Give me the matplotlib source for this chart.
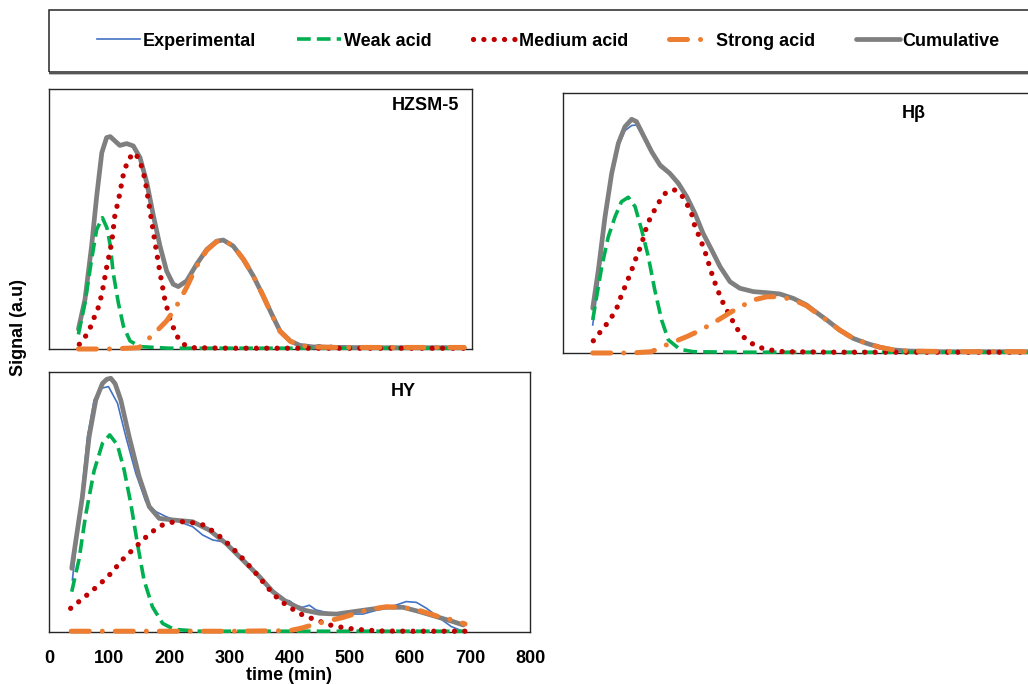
import matplotlib
matplotlib.use("Agg")
import matplotlib.pyplot as plt
from matplotlib.lines import Line2D
from matplotlib.patches import Rectangle

plt.rcParams['font.family'] = ['Liberation Sans', 'DejaVu Sans']

# ---------------- data (time in min, signal in a.u.) ----------------
# HZSM-5
hz_cum_t = [49, 60, 71, 79.5, 88, 96, 102, 110, 118, 129.5, 140.5, 151.7, 163, 174, 185, 196, 207, 215.5,
            229.5, 246, 263, 279.5, 290.5, 307, 324, 340.5, 357, 371, 385, 402, 418, 440, 480, 540, 600, 650, 692]
hz_cum_y = [7.6, 19.1, 39.6, 58.8, 75.5, 81.3, 81.7, 80, 78.3, 79, 78.1, 73.6, 64, 51.2, 39.6, 30, 24.9, 24,
            26.2, 32.6, 38.3, 41.5, 41.9, 39.6, 34.5, 28.1, 20.4, 13.5, 6.9, 3.1, 1.4, 0.8, 0.6, 0.5, 0.5, 0.5, 0.5]
hz_exp_t = [49, 60, 71, 79.5, 88, 96, 102, 110, 118, 129.5, 140.5, 151.7, 163, 174, 185, 196, 207, 215.5,
            229.5, 246, 263, 279.5, 290.5, 307, 324, 340.5, 357, 371, 385, 402, 418, 430, 440, 450, 460, 470,
            480, 490, 500, 520, 560, 600, 640, 660, 680, 692]
hz_exp_y = [7.0, 19.5, 40, 59, 75.5, 81.5, 82, 80.3, 78.5, 79.2, 78.0, 73.5, 64, 51, 39.5, 30, 25, 24.2,
            26.4, 32.8, 38.5, 41.6, 42.0, 39.4, 34.3, 28.0, 20.3, 13.4, 7.0, 3.2, 1.4, 1.5, 1.0, 1.6, 0.9, 1.4,
            0.8, 1.2, 0.7, 0.6, 0.4, 0.5, 0.6, 0.9, 0.5, 0.6]
hz_weak_t = [49, 60, 71, 79.5, 89, 96.5, 102, 107, 115.5, 124, 135, 152, 200, 300, 400, 500, 600, 692]
hz_weak_y = [5.6, 17.8, 34.5, 46, 50.5, 46.6, 40, 29.3, 17.8, 8.8, 3.1, 0.9, 0.3, 0.3, 0.3, 0.3, 0.3, 0.3]
hz_med_t = [50.5, 65.5, 74, 82, 88, 96, 104.5, 110, 115.5, 124, 132, 143, 151.7, 160, 168, 176.7, 185, 193,
            201.7, 213, 224, 240.5, 300, 400, 500, 600, 692]
hz_med_y = [1.8, 6.3, 11.4, 15.9, 21, 31.3, 40.9, 51.8, 56.9, 67.2, 73, 75.5, 72.3, 65.3, 53.7, 40.9, 29.3,
            19.1, 11.4, 5, 1.8, 0.5, 0.3, 0.3, 0.3, 0.3, 0.3]
hz_strong_t = [49, 100, 150, 168, 182, 196, 210, 219.5, 230, 246, 263, 279.5, 290.5, 307, 324, 340.5, 357,
               371, 385, 402, 418, 440, 480, 540, 600, 650, 692]
hz_strong_y = [0, 0, 0.5, 4.4, 7.5, 10.8, 15.5, 19.4, 24, 31.8, 38, 41.3, 41.9, 39.6, 34.5, 28.1, 20.4,
               13.3, 6.8, 3.0, 1.3, 0.8, 0.6, 0.6, 0.6, 0.6, 0.6]

# HY
hy_cum_t = [37.8, 55.5, 66.7, 77.8, 88.9, 96, 102.8, 110, 119.4, 133.3, 150, 166.7, 183.3, 205.6, 238.9,
            266.7, 294.4, 322.2, 350, 372.2, 394.4, 422.2, 450, 477.8, 505.6, 533.3, 561, 588.9, 616.7, 644.4,
            672, 689]
hy_cum_y = [24.5, 52, 75.1, 89.2, 95.6, 97.2, 97.6, 95.5, 89.2, 75.1, 59.7, 48.2, 43.7, 43.1, 42.4,
            39.2, 34.1, 27.7, 21.3, 15.5, 11.7, 8.5, 7.2, 6.9, 7.8, 8.7, 9.5, 9.5, 7.8, 5.9,
            4.0, 2.7]
hy_exp_t = [38.9, 52.8, 63.9, 75, 86.1, 98.9, 113.9, 127.8, 144.4, 161.1, 177.8, 194.4, 216.7, 238.9, 255.6,
            272.2, 288.9, 305.6, 327.8, 350, 372.2, 390, 400, 410, 422, 433, 444, 467, 500, 522, 550, 578,
            594, 611, 628, 650, 669, 686]
hy_exp_y = [20, 49.5, 75.1, 89.2, 93.7, 94.4, 88, 75.1, 61, 50.1, 46.3, 44.4, 42.4, 40.5, 37.3,
            35.4, 34.7, 32.2, 27.1, 21.3, 16.2, 12.5, 12, 10.2, 9.5, 10.3, 8.5, 7.2, 6.9, 6.9, 8.7, 10.4,
            11.7, 11.4, 9.1, 5.3, 2.1, 0.5]
hy_weak_t = [37.8, 50, 61, 75, 89, 101, 113.9, 125, 136, 147, 158, 172, 189, 208, 250, 300, 400, 500,
             600, 692]
hy_weak_y = [15.5, 28, 45, 62, 72.6, 75.8, 71.9, 62.3, 49.5, 34.1, 20, 9.7, 3.3, 1.0, 0.3, 0.3, 0.3, 0.3,
             0.3, 0.3]
hy_med_t = [36, 53, 72, 89, 106, 119, 136, 153, 169, 189, 208, 231, 256, 278, 300, 322, 344, 367, 383, 403,
            422, 444, 467, 489, 511, 550, 600, 650, 692]
hy_med_y = [9.1, 12.3, 15.9, 19.4, 23.2, 27.1, 30.9, 34.7, 38.2, 41.2, 42.4, 42.4, 41.2, 38, 33.5, 28.3,
            22.6, 16.2, 12.3, 9.1, 6.5, 4.6, 2.7, 1.7, 1.0, 0.4, 0.3, 0.3, 0.3]
hy_strong_t = [37, 100, 200, 300, 400, 420, 444, 467, 489, 511, 533, 561, 589, 617, 644, 672, 692]
hy_strong_y = [0.3, 0.3, 0.3, 0.3, 0.5, 1.5, 3.1, 4.4, 5.6, 7.2, 8.7, 9.7, 9.5, 8.2, 6.2, 4.6, 3.1]

# H-beta
hb_cum_t = [43.7, 52, 61.8, 71.6, 81.4, 91, 101, 108, 118, 130.4, 142.6, 157, 169.6, 182, 194, 206, 218.7,
            231, 245.6, 260, 280, 299.5, 319, 338.7, 358, 368, 387.8, 407, 427, 446.6, 466, 485.7, 505,
            550, 600, 650, 692]
hb_cum_y = [17.2, 31.9, 52.4, 69.1, 80.7, 87, 89.9, 89, 83.8, 77.4, 72.3, 69.1, 65.3, 60.1, 53.7, 46, 39.6,
            33.2, 27.4, 24.9, 23.6, 23.2, 22.7, 21, 18.5, 16.5, 12.7, 8.8, 5.6, 3.7, 2.2, 1.2, 0.8,
            0.5, 0.5, 0.5, 0.5]
hb_exp_t = hb_cum_t
hb_exp_y = [10.8, 27, 50, 68, 79.5, 85.5, 87.5, 87.7, 83, 77, 71.5, 68.8, 64.5, 59.5, 53.7, 46, 39.6,
            33.2, 27.4, 24.9, 23.8, 23.0, 22.5, 21, 18.5, 16.5, 12.7, 8.8, 5.6, 3.7, 2.2, 1.2, 0.8,
            0.6, 0.4, 0.5, 0.5]
hb_weak_t = [43.7, 49.5, 57, 66.6, 76.5, 86, 96, 106, 115.7, 125.5, 135, 145, 155, 172, 191.6, 250, 350, 450,
             550, 692]
hb_weak_y = [12.7, 21.7, 33.2, 44.7, 52.4, 58.2, 59.9, 56.3, 47.3, 37, 24.2, 12.7, 5, 1.4, 0.5, 0.3, 0.3,
             0.3, 0.3, 0.3]
hb_med_t = [44.6, 57, 69, 79, 86, 93.6, 101, 108, 115.7, 120.6, 128, 137.8, 147.5, 156, 164.7, 172, 179.4,
            189, 194, 201.5, 208.8, 215, 221, 228.4, 235.7, 245.6, 255.4, 267.6, 284.8, 304, 324, 400, 500,
            600, 692]
hb_med_y = [4.7, 8.8, 12.7, 17.2, 22.3, 27, 31.9, 37, 41.9, 46.7, 51.8, 56.5, 60.8, 62.5, 62.7, 61.5, 58.8,
            53.7, 48.6, 44.1, 39, 33.8, 28.7, 23.6, 19.1, 14.2, 9.5, 5.6, 2.4, 1.2, 0.5, 0.3, 0.3, 0.3, 0.3]
hb_strong_t = [43.7, 100, 130, 152, 167, 182, 200, 216, 232, 248, 264, 280, 299.5, 316.6, 338.7, 358, 368,
               387.8, 407, 427, 446.6, 466, 485.7, 505, 550, 600, 650, 692]
hb_strong_y = [0, 0, 0.5, 3.1, 4.7, 6.3, 8.5, 10.8, 13.3, 15.9, 18.2, 20.4, 21.6, 21.7, 20.5, 18.2, 16.3,
               12.6, 8.8, 5.6, 3.7, 2.2, 1.2, 0.8, 0.6, 0.5, 0.5, 0.5]

series_labels = ["Experimental", "Weak acid", "Medium acid", "Strong acid", "Cumulative"]
panel_titles = ["HZSM-5", "H\u03b2", "HY"]
x_ticks = [0, 100, 200, 300, 400, 500, 600, 700, 800]
x_label = "time (min)"
y_label = "Signal (a.u)"

# ---------------- styles ----------------
C_EXP = "#4472C4"
C_WEAK = "#00B050"
C_MED = "#C00000"
C_STR = "#ED7D31"
C_CUM = "#7F7F7F"

styles = {
    "exp": dict(color=C_EXP, lw=1.2, ls="-", zorder=2),
    "weak": dict(color=C_WEAK, lw=2.6, ls=(0, (3.8, 1.7)), dash_capstyle="butt", zorder=4),
    "med": dict(color=C_MED, lw=3.8, ls=(0, (0.01, 1.95)), dash_capstyle="round", zorder=5),
    "str": dict(color=C_STR, lw=3.6, ls=(0, (3.6, 2.6, 0.01, 2.6)), dash_capstyle="round", zorder=6),
    "cum": dict(color=C_CUM, lw=3.4, ls="-", solid_capstyle="round", solid_joinstyle="round", zorder=3),
}

W, H = 1028, 684
fig = plt.figure(figsize=(W / 100, H / 100), dpi=100)


def add_ax(x0, y0, x1, y1):
    return fig.add_axes([x0 / W, 1 - y1 / H, (x1 - x0) / W, (y1 - y0) / H])


def draw(ax, data):
    for key, (t, y) in data.items():
        ax.plot(t, y, clip_on=False, **styles[key])


ax_hz = add_ax(49, 89, 472, 349)
ax_hb = add_ax(563, 93, 1028, 353)
ax_hy = add_ax(49, 372, 530, 632)

draw(ax_hz, {"exp": (hz_exp_t, hz_exp_y), "cum": (hz_cum_t, hz_cum_y), "weak": (hz_weak_t, hz_weak_y),
             "med": (hz_med_t, hz_med_y), "str": (hz_strong_t, hz_strong_y)})
draw(ax_hb, {"exp": (hb_exp_t, hb_exp_y), "cum": (hb_cum_t, hb_cum_y), "weak": (hb_weak_t, hb_weak_y),
             "med": (hb_med_t, hb_med_y), "str": (hb_strong_t, hb_strong_y)})
draw(ax_hy, {"exp": (hy_exp_t, hy_exp_y), "cum": (hy_cum_t, hy_cum_y), "weak": (hy_weak_t, hy_weak_y),
             "med": (hy_med_t, hy_med_y), "str": (hy_strong_t, hy_strong_y)})

ax_hz.set_xlim(0, 705)
ax_hb.set_xlim(0, (1028 - 563) / 0.68)
ax_hy.set_xlim(0, 800)

for ax in (ax_hz, ax_hb, ax_hy):
    ax.set_ylim(0, 100)
    ax.set_yticks([])
    for s in ax.spines.values():
        s.set_linewidth(1.0)
        s.set_color("#262626")
    ax.set_facecolor("none")

ax_hb.spines["right"].set_visible(False)
ax_hz.set_xticks([])
ax_hb.set_xticks([])
ax_hy.set_xticks(x_ticks)
ax_hy.set_xticklabels([str(v) for v in x_ticks], fontsize=13, fontweight="bold")
ax_hy.tick_params(axis="x", length=0, pad=13)
ax_hy.set_xlabel(x_label, fontsize=13, fontweight="bold", labelpad=0)

# panel titles
fig.text(425 / W, 1 - 106 / H, panel_titles[0], fontsize=13, fontweight="bold", ha="center", va="center")
fig.text(914 / W, 1 - 114 / H, panel_titles[1], fontsize=13, fontweight="bold", ha="center", va="center")
fig.text(403 / W, 1 - 391.5 / H, panel_titles[2], fontsize=13, fontweight="bold", ha="center", va="center")

# y label
fig.text(19 / W, 1 - 328 / H, y_label, fontsize=13, fontweight="bold", rotation=90,
         ha="center", va="center")

# legend box
fig.patches.append(Rectangle((49 / W, 1 - 72 / H), (1040 - 49) / W, 62 / H, transform=fig.transFigure,
                             fill=False, ec="#262626", lw=1.1))
fig.patches.append(Rectangle((49 / W, 1 - 72.6 / H), (1040 - 49) / W, 0, transform=fig.transFigure,
                             fill=False, ec="#555555", lw=1.0))

handles = [Line2D([], [], **{k: v for k, v in styles[key].items() if k != "zorder"})
           for key in ("exp", "weak", "med", "str", "cum")]
leg = fig.legend(handles, series_labels, loc="center", bbox_to_anchor=(548 / W, 1 - 41 / H),
                 ncol=5, frameon=False, handlelength=2.4, handletextpad=0.15, columnspacing=2.3,
                 prop=dict(size=13, weight="bold"))

fig.savefig("out.png", dpi=100)
